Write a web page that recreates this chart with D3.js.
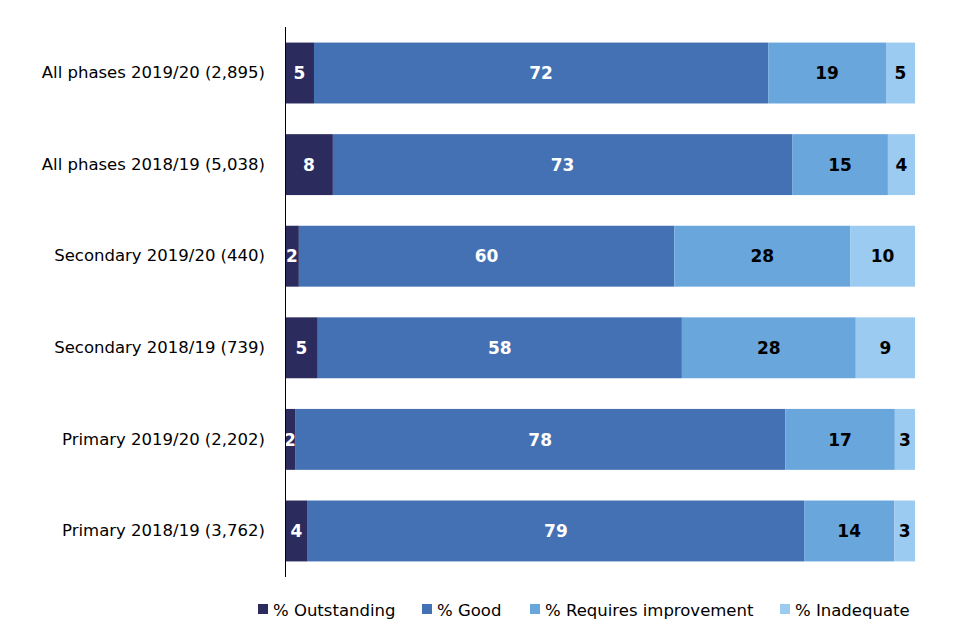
<!DOCTYPE html>
<html>
<head>
<meta charset="utf-8">
<script src="https://cdn.jsdelivr.net/npm/d3@7"></script>
<style>
  body { margin: 0; background: #fff; }
  svg { font-family: "DejaVu Sans", Verdana, sans-serif; }
</style>
</head>
<body>
<div id="chart"></div>
<script>
// Chart data (percentages)
var categories = [
    "All phases 2019/20 (2,895)",
    "All phases 2018/19 (5,038)",
    "Secondary 2019/20 (440)",
    "Secondary 2018/19 (739)",
    "Primary 2019/20 (2,202)",
    "Primary 2018/19 (3,762)"
];
var seriesNames = ["% Outstanding", "% Good", "% Requires improvement", "% Inadequate"];
var outstanding = [4.6, 7.6, 2.2, 5.2, 1.6, 3.6];
var good = [72.1, 72.9, 59.6, 57.8, 77.8, 78.8];
var requiresImprovement = [18.7, 15.2, 27.9, 27.6, 17.4, 14.3];
var inadequate = [4.6, 4.3, 10.3, 9.4, 3.2, 3.3];

var colors = ["#2c2b5e", "#4471b3", "#68a6dc", "#9ccbf1"];
var labelColors = ["#fff", "#fff", "#000", "#000"];

var svgWidth = 960;
var svgHeight = 640;
var margin = { top: 27, right: 45, bottom: 63, left: 285 };

var rows = categories.map(function (c, i) {
    return {
        name: c,
        s0: outstanding[i],
        s1: good[i],
        s2: requiresImprovement[i],
        s3: inadequate[i]
    };
});
var keys = ["s0", "s1", "s2", "s3"];

var stacked = d3.stack().keys(keys).offset(d3.stackOffsetExpand)(rows);

var svg = d3.select("#chart")
    .append("svg")
    .attr("width", svgWidth)
    .attr("height", svgHeight);

var xScale = d3.scaleLinear()
    .domain([0, 1])
    .range([margin.left, svgWidth - margin.right]);

var yScale = d3.scaleBand()
    .domain(categories)
    .range([margin.top, svgHeight - margin.bottom])
    .paddingInner(0.335)
    .paddingOuter(0.17);

// Bars
var groups = svg.selectAll("g.series")
    .data(stacked)
    .enter()
    .append("g")
    .attr("class", "series")
    .attr("fill", function (d, i) { return colors[i]; });

groups.selectAll("rect")
    .data(function (d) { return d; })
    .enter()
    .append("rect")
    .attr("x", function (d) { return xScale(d[0]); })
    .attr("y", function (d) { return yScale(d.data.name); })
    .attr("width", function (d) { return xScale(d[1]) - xScale(d[0]); })
    .attr("height", yScale.bandwidth());

// Value labels
var fmt = d3.format(".0f");
stacked.forEach(function (layer, i) {
    svg.append("g")
        .selectAll("text")
        .data(layer)
        .enter()
        .append("text")
        .attr("x", function (d) { return (xScale(d[0]) + xScale(d[1])) / 2; })
        .attr("y", function (d) { return yScale(d.data.name) + yScale.bandwidth() / 2; })
        .attr("dy", "0.36em")
        .attr("text-anchor", "middle")
        .attr("font-size", 17)
        .attr("font-weight", "bold")
        .attr("fill", labelColors[i])
        .text(function (d) { return fmt(d.data[layer.key]); });
});

// Y axis
var yAxis = d3.axisLeft(yScale).tickSize(0).tickPadding(20);
var yg = svg.append("g")
    .attr("transform", "translate(" + margin.left + ",0)")
    .call(yAxis);
yg.select(".domain").attr("stroke", "#000").attr("d", "M0.5," + margin.top + "V" + (svgHeight - margin.bottom));
yg.selectAll("text")
    .attr("font-size", 16.5)
    .attr("font-family", "DejaVu Sans, Verdana, sans-serif")
    .attr("fill", "#000");

// Legend
var legendX = [258, 422, 530, 780];
var legend = svg.append("g");
seriesNames.forEach(function (name, i) {
    legend.append("rect")
        .attr("x", legendX[i])
        .attr("y", 604)
        .attr("width", 10)
        .attr("height", 10)
        .attr("fill", colors[i]);
    legend.append("text")
        .attr("x", legendX[i] + 15)
        .attr("y", 616)
        .attr("font-size", 16.5)
        .attr("fill", "#000")
        .text(name);
});
</script>
</body>
</html>
